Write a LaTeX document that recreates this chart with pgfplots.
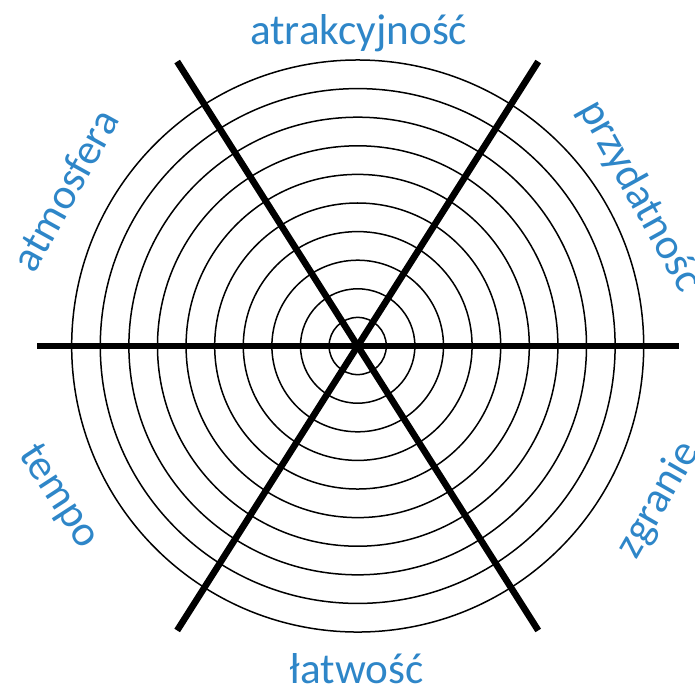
\documentclass[border=0pt]{standalone}
\usepackage{fontspec}
\setmainfont{Carlito}
\usepackage{pgfplots}
\usepgfplotslibrary{polar}
\pgfplotsset{compat=1.18}
\definecolor{lblue}{RGB}{46,134,200}
\begin{document}
\begin{tikzpicture}
\useasboundingbox (-178.85pt,-170pt) rectangle (168.65pt,173pt);
\clip (-178.85pt,-170pt) rectangle (168.65pt,173pt);
\begin{polaraxis}[
  at={(0pt,0pt)}, anchor=center,
  scale only axis, width=337.5pt, height=337.5pt,
  xmin=0, xmax=360, ymin=0, ymax=11.8,
  xtick=\empty,
  ytick={1,2,3,4,5,6,7,8,9,10},
  yticklabels={},
  yticklabel style={text opacity=0},
  ymajorgrids,
  major grid style={black, line width=0.75pt},
  tick style={draw=none},
  axis line style={draw=none},
  clip=false,
]
\addplot[black, line width=3.3pt] coordinates {(0,11.22) (180,11.22)};
\addplot[black, line width=3.3pt] coordinates {(57.6,11.78) (237.6,11.78)};
\addplot[black, line width=3.3pt] coordinates {(122.4,11.78) (302.4,11.78)};
\end{polaraxis}
\begin{scope}[every node/.style={text=lblue, font=\fontsize{21.6}{25}\selectfont, inner sep=0pt}]
\node[anchor=base] at (0.5pt,150.5pt) {atrakcyjność};
\node[anchor=base] at (-0.5pt,-168.5pt) {łatwość};
\node[rotate=61] at (-146.4pt,78pt) {atmosfera};
\node[rotate=-57] at (-149.8pt,-75.5pt) {tempo};
\node[rotate=-61] at (141pt,75pt) {przydatność};
\node[rotate=60] at (150.5pt,-77pt) {zgranie};
\end{scope}
\end{tikzpicture}
\end{document}
